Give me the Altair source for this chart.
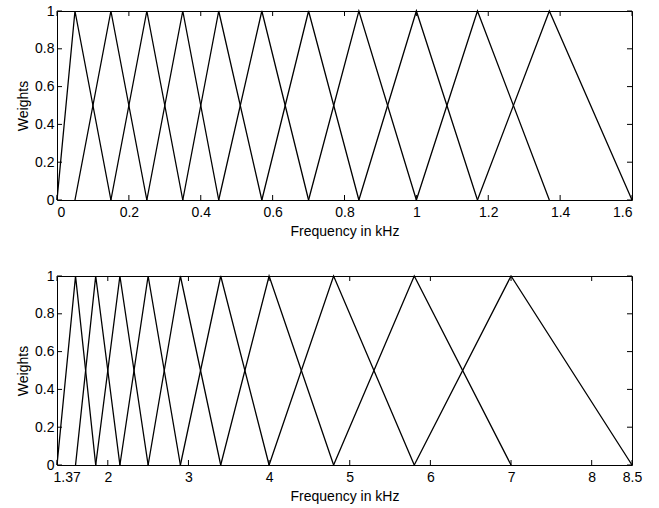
import altair as alt
import pandas as pd

# Filter centre frequencies (kHz): each triangle rises from the previous point,
# peaks at its own point and falls to the next point.
top_points = [0, 0.05, 0.15, 0.25, 0.35, 0.45, 0.57, 0.70, 0.84, 1.0, 1.17, 1.37, 1.6]
bottom_points = [1.37, 1.6, 1.85, 2.15, 2.5, 2.9, 3.4, 4.0, 4.8, 5.8, 7.0, 8.5]
triangle_weights = [0, 1, 0]

top_xticks = [0, 0.2, 0.4, 0.6, 0.8, 1.0, 1.2, 1.4, 1.6]
bottom_xticks = [1.37, 2, 3, 4, 5, 6, 7, 8, 8.5]
y_ticks = [0, 0.2, 0.4, 0.6, 0.8, 1]

W, H = 575, 189
FONT = "Liberation Sans"
TICK = 5


def triangles(points):
    rows = []
    for k in range(1, len(points) - 1):
        for j, w in zip((-1, 0, 1), triangle_weights):
            rows.append({"filt": k, "ord": j, "f": points[k + j], "w": w})
    return pd.DataFrame(rows)


def panel(points, xticks, domain, first_left=False):
    xkw = dict(
        values=xticks, format=".3~g", ticks=False, domain=False, grid=False,
        labelFont=FONT, labelFontSize=14, labelColor="black", labelPadding=5,
        title="Frequency in kHz", titleFont=FONT, titleFontSize=14,
        titleFontWeight="normal", titleColor="black", titlePadding=5,
    )
    if first_left:
        xkw["labelAlign"] = {"condition": {"test": "datum.value < 1.4", "value": "left"}, "value": "center"}
        xkw["labelOffset"] = {"condition": {"test": "datum.value < 1.4", "value": -4}, "value": 0}
    xscale = alt.Scale(domain=domain, nice=False, zero=False)
    yscale = alt.Scale(domain=[0, 1], nice=False)
    xaxis = alt.Axis(**xkw)
    yaxis = alt.Axis(
        values=y_ticks, format=".3~g", ticks=False, domain=False, grid=False,
        labelFont=FONT, labelFontSize=14, labelColor="black", labelPadding=3,
        title="Weights", titleFont=FONT, titleFontSize=14, titleFontWeight="normal",
        titleColor="black", titlePadding=4,
    )
    lines = alt.Chart(triangles(points)).mark_line(color="black", strokeWidth=1.3).encode(
        x=alt.X("f:Q", scale=xscale, axis=xaxis),
        y=alt.Y("w:Q", scale=yscale, axis=yaxis),
        detail="filt:N",
        order="ord:Q",
    )
    xt = pd.DataFrame({"f": xticks})
    yt = pd.DataFrame({"w": y_ticks})
    xb = alt.Chart(xt).mark_rule(color="black", strokeWidth=1).encode(
        x=alt.X("f:Q", scale=xscale, axis=xaxis), y=alt.value(H), y2=alt.value(H - TICK))
    xtop = alt.Chart(xt).mark_rule(color="black", strokeWidth=1).encode(
        x=alt.X("f:Q", scale=xscale, axis=xaxis), y=alt.value(0), y2=alt.value(TICK))
    yl = alt.Chart(yt).mark_rule(color="black", strokeWidth=1).encode(
        y=alt.Y("w:Q", scale=yscale, axis=yaxis), x=alt.value(0), x2=alt.value(TICK))
    yr = alt.Chart(yt).mark_rule(color="black", strokeWidth=1).encode(
        y=alt.Y("w:Q", scale=yscale, axis=yaxis), x=alt.value(W - TICK), x2=alt.value(W))
    return alt.layer(lines, xb, xtop, yl, yr).properties(width=W, height=H)


top = panel(top_points, top_xticks, [0, 1.6])
bottom = panel(bottom_points, bottom_xticks, [1.37, 8.5], first_left=True)

chart = alt.vconcat(top, bottom, spacing=29).properties(
    padding={"left": 16, "top": 3, "right": 10, "bottom": 5},
    background="white",
).configure_view(stroke="black", strokeWidth=1)

chart.save("out.html", embed_options={"renderer": "svg", "actions": False})
